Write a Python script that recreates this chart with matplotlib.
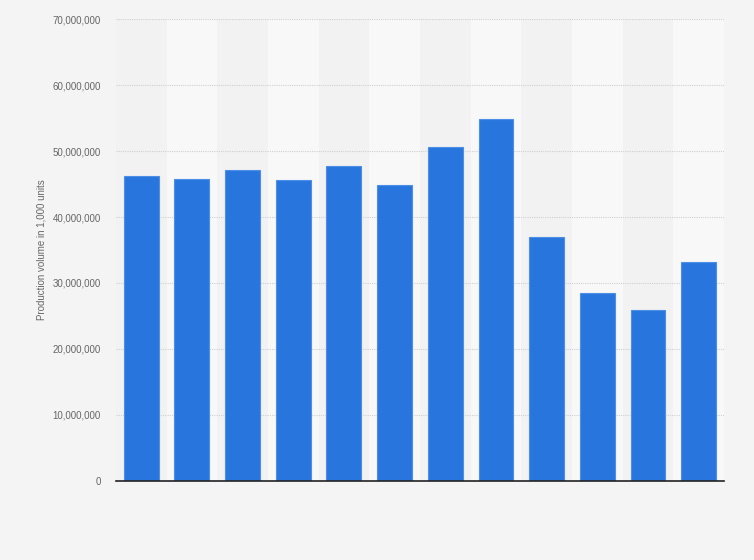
import matplotlib.pyplot as plt
from matplotlib.ticker import FuncFormatter

plt.rcParams['font.family'] = ['Liberation Sans', 'DejaVu Sans']

positions = list(range(12))
volumes = [46.2e6, 45.75e6, 47.1e6, 45.6e6, 47.7e6, 44.85e6,
           50.6e6, 54.85e6, 37.0e6, 28.45e6, 25.85e6, 33.15e6]
yticks = [0, 10e6, 20e6, 30e6, 40e6, 50e6, 60e6, 70e6]

fig = plt.figure(figsize=(7.54, 5.6), dpi=100, facecolor='#f4f4f4')
ax = fig.add_axes([0.1538, 0.1416, 0.8064, 0.8239])
ax.set_facecolor('#f4f4f4')

# alternating column bands
for i in positions:
    ax.axvspan(i - 0.5, i + 0.5, color='#f2f2f2' if i % 2 == 0 else '#f8f8f8',
               lw=0, zorder=0)

ax.bar(positions, volumes, width=0.69, color='#2876dd',
       edgecolor='#4d8fe6', linewidth=0.8, zorder=3)

ax.set_xlim(-0.5, 11.5)
ax.set_ylim(0, 70e6)
ax.set_yticks(yticks)
ax.yaxis.set_major_formatter(FuncFormatter(lambda v, p: f'{int(v):,}'))
ax.set_xticks([])
ax.tick_params(axis='y', length=0, pad=11, labelsize=7, labelcolor='#666666')
ax.grid(axis='y', color='#d0d0d0', linestyle=(0, (1, 1)), linewidth=0.8, zorder=1)

for s in ['top', 'right', 'left']:
    ax.spines[s].set_visible(False)
ax.spines['bottom'].set_color('#222222')
ax.spines['bottom'].set_linewidth(1.2)
ax.spines['bottom'].set_zorder(4)

ax.set_ylabel('Production volume in 1,000 units', fontsize=7, color='#666666',
              labelpad=4)

fig.savefig('out.png', dpi=100, facecolor=fig.get_facecolor())
